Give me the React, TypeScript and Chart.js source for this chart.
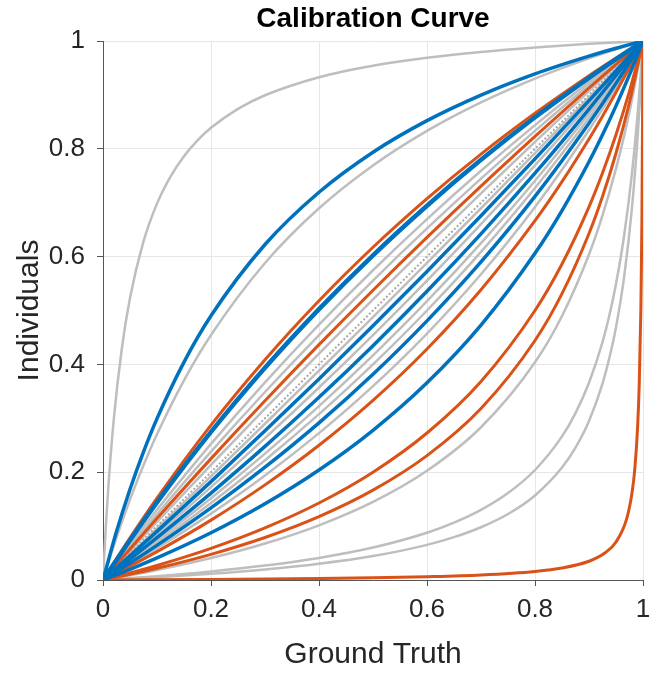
import React, { useEffect, useRef } from "react";
import { Chart, registerables } from "chart.js";

Chart.register(...registerables);

// Ground-truth sample points
const xGrid = [0, 0.05, 0.1, 0.2, 0.3, 0.4, 0.5, 0.6, 0.7, 0.8, 0.9, 0.95, 1];
const xGridLow = [0, 0.025, 0.05, 0.075, 0.1, 0.15, 0.2, 0.3, 0.4, 0.5, 0.6, 0.7, 0.8, 0.9, 0.95, 1];
const xGridHigh = [0, 0.05, 0.1, 0.2, 0.3, 0.4, 0.5, 0.6, 0.7, 0.8, 0.85, 0.9, 0.925, 0.95, 0.975, 1];

// Gray curves
const gray030 = [0, 0.0787, 0.1493, 0.2128, 0.2703, 0.3704, 0.4545, 0.5882, 0.6897, 0.7692, 0.8333, 0.8861, 0.9302, 0.9677, 0.9845, 1]; // xGridLow
const gray074 = [0, 0.0664, 0.1305, 0.2525, 0.3667, 0.4739, 0.5747, 0.6696, 0.7592, 0.8439, 0.924, 0.9625, 1];
const gray080 = [0, 0.0617, 0.122, 0.2381, 0.3488, 0.4545, 0.5556, 0.6522, 0.7447, 0.8333, 0.9184, 0.9596, 1];
const gray092 = [0, 0.0541, 0.1078, 0.2137, 0.3178, 0.4202, 0.5208, 0.6198, 0.7172, 0.813, 0.9073, 0.9538, 1];
const gray105 = [0, 0.0477, 0.0957, 0.1923, 0.2899, 0.3883, 0.4878, 0.5882, 0.6897, 0.7921, 0.8955, 0.9476, 1];
const gray120 = [0, 0.042, 0.0847, 0.1724, 0.2632, 0.3571, 0.4545, 0.5556, 0.6604, 0.7692, 0.8824, 0.9406, 1];
const gray140 = [0, 0.0362, 0.0735, 0.1515, 0.2344, 0.3226, 0.4167, 0.5172, 0.625, 0.7407, 0.8654, 0.9314, 1];
const gray150 = [0, 0.0339, 0.069, 0.1429, 0.2222, 0.3077, 0.4, 0.5, 0.6087, 0.7273, 0.8571, 0.9268, 1];
const gray178 = [0, 0.0287, 0.0588, 0.1232, 0.194, 0.2725, 0.3597, 0.4573, 0.5673, 0.692, 0.8349, 0.9143, 1];
const gray590 = [0, 0.0088, 0.0185, 0.0407, 0.0677, 0.1015, 0.1449, 0.2027, 0.2834, 0.404, 0.4899, 0.604, 0.6764, 0.7631, 0.8686, 1]; // xGridHigh
const diagonal = [0, 0.05, 0.1, 0.2, 0.3, 0.4, 0.5, 0.6, 0.7, 0.8, 0.9, 0.95, 1];

// Orange curves
const orange062 = [0, 0.0782, 0.152, 0.2874, 0.4087, 0.5181, 0.6173, 0.7075, 0.7901, 0.8658, 0.9356, 0.9684, 1];
const orange086 = [0, 0.0577, 0.1144, 0.2252, 0.3326, 0.4367, 0.5376, 0.6356, 0.7307, 0.823, 0.9128, 0.9567, 1];
const orange200 = [0, 0.0256, 0.0526, 0.1111, 0.1765, 0.25, 0.3333, 0.4286, 0.5385, 0.6667, 0.7391, 0.8182, 0.8605, 0.9048, 0.9512, 1]; // xGridHigh
const orange400 = [0, 0.013, 0.027, 0.0588, 0.0968, 0.1429, 0.2, 0.2727, 0.3684, 0.5, 0.5862, 0.6923, 0.7551, 0.8261, 0.907, 1]; // xGridHigh
const orange500 = [0, 0.0104, 0.0217, 0.0476, 0.0789, 0.1176, 0.1667, 0.2308, 0.3182, 0.4444, 0.5313, 0.6429, 0.7115, 0.7917, 0.8864, 1]; // xGridHigh

// Blue curves
const blue026 = [0, 0.0898, 0.1683, 0.2377, 0.2994, 0.4043, 0.4902, 0.6224, 0.7194, 0.7937, 0.8523, 0.8997, 0.939, 0.9719, 0.9865, 1]; // xGridLow
const blue066 = [0, 0.0739, 0.1441, 0.2747, 0.3937, 0.5025, 0.6024, 0.6944, 0.7795, 0.8584, 0.9317, 0.9664, 1];
const blue112 = [0, 0.0449, 0.0903, 0.1825, 0.2768, 0.3731, 0.4717, 0.5725, 0.6757, 0.7813, 0.8893, 0.9443, 1];
const blue130 = [0, 0.0389, 0.0787, 0.1613, 0.2479, 0.339, 0.4348, 0.5357, 0.6422, 0.7547, 0.8738, 0.936, 1];
const blue162 = [0, 0.0315, 0.0642, 0.1337, 0.2092, 0.2915, 0.3817, 0.4808, 0.5902, 0.7117, 0.8475, 0.9214, 1];
const blue260 = [0, 0.0198, 0.041, 0.0877, 0.1415, 0.2041, 0.2778, 0.3659, 0.473, 0.6061, 0.6855, 0.7759, 0.8259, 0.8796, 0.9375, 1]; // xGridHigh

// Extreme curves with their own sample points
const grayTopX = [0, 0.0025, 0.005, 0.01, 0.02, 0.035, 0.05, 0.075, 0.1, 0.125, 0.15, 0.175, 0.2, 0.25, 0.3, 0.4, 0.5, 0.6, 0.7, 0.8, 0.9, 1];
const grayTopY = [0, 0.0496, 0.0948, 0.1739, 0.2983, 0.4304, 0.523, 0.6281, 0.6983, 0.7485, 0.7862, 0.8155, 0.8389, 0.8741, 0.8993, 0.9328, 0.9542, 0.969, 0.9798, 0.9881, 0.9947, 1];

const grayLowX = [0, 0.1, 0.2, 0.3, 0.4, 0.5, 0.6, 0.65, 0.7, 0.75, 0.8, 0.85, 0.875, 0.9, 0.925, 0.94, 0.95, 0.965, 0.98, 0.99, 0.995, 1];
const grayLowAY = [0, 0.0071, 0.0158, 0.0267, 0.041, 0.0602, 0.0877, 0.1064, 0.1301, 0.1613, 0.2041, 0.2665, 0.3097, 0.3659, 0.4415, 0.5011, 0.5491, 0.6387, 0.7585, 0.8639, 0.9273, 1];
const grayLowBY = [0, 0.0051, 0.0115, 0.0195, 0.0301, 0.0444, 0.0652, 0.0795, 0.0979, 0.1224, 0.1569, 0.2086, 0.2456, 0.2951, 0.3645, 0.4215, 0.4691, 0.5619, 0.695, 0.8216, 0.9025, 1];

const orangeLowX = [0, 0.2, 0.4, 0.5, 0.6, 0.7, 0.8, 0.85, 0.9, 0.93, 0.95, 0.97, 0.98, 0.985, 0.99, 0.993, 0.996, 0.998, 1];
const orangeLowY = [0, 0.001, 0.0027, 0.004, 0.006, 0.0093, 0.0158, 0.0222, 0.0348, 0.0505, 0.0706, 0.1145, 0.1639, 0.208, 0.2837, 0.362, 0.499, 0.6662, 1];

const xTickLabels = ["0", "0.2", "0.4", "0.6", "0.8", "1"];
const yTickLabels = ["0", "0.2", "0.4", "0.6", "0.8", "1"];

const GRAY = "#bebebe";
const BLUE = "#0072BD";
const ORANGE = "#D95319";
const FONT = "'Liberation Sans', Arial, Helvetica, sans-serif";

function mk(xs: number[], ys: number[], color: string, width: number, order: number, dash?: number[]) {
  return {
    data: xs.map((x, i) => ({ x, y: ys[i] })),
    borderColor: color,
    borderWidth: width,
    pointRadius: 0,
    fill: false,
    cubicInterpolationMode: "monotone" as const,
    order,
    borderDash: dash || [],
  };
}

export default function App() {
  const ref = useRef<HTMLCanvasElement | null>(null);
  useEffect(() => {
    if (!ref.current) return;
    const datasets: any[] = [];
    datasets.push(mk(grayTopX, grayTopY, GRAY, 2.5, 5));
    datasets.push(mk(grayLowX, grayLowAY, GRAY, 2.5, 5));
    datasets.push(mk(grayLowX, grayLowBY, GRAY, 2.5, 5));
    datasets.push(mk(xGridLow, gray030, GRAY, 2.5, 5));
    [gray074, gray080, gray092, gray105, gray120, gray140, gray150, gray178].forEach((g) =>
      datasets.push(mk(xGrid, g, GRAY, 2.5, 5))
    );
    datasets.push(mk(xGridHigh, gray590, GRAY, 2.5, 5));
    datasets.push(mk(xGrid, diagonal, "#a8a8a8", 2, 4, [2, 2]));
    [orange062, orange086].forEach((o) => datasets.push(mk(xGrid, o, ORANGE, 3, 3)));
    [orange200, orange400, orange500].forEach((o) => datasets.push(mk(xGridHigh, o, ORANGE, 3, 3)));
    datasets.push(mk(orangeLowX, orangeLowY, ORANGE, 3, 3));
    datasets.push(mk(xGridLow, blue026, BLUE, 3.5, 2));
    datasets.push(mk(xGrid, blue066, BLUE, 4.5, 2));
    [blue112, blue130, blue162].forEach((b) => datasets.push(mk(xGrid, b, BLUE, 3.5, 2)));
    datasets.push(mk(xGridHigh, blue260, BLUE, 3.5, 2));

    const chart = new Chart(ref.current, {
      type: "line",
      data: { datasets },
      options: {
        animation: false,
        responsive: false,
        devicePixelRatio: 1,
        layout: { padding: { left: 0, right: 19, top: 0, bottom: 0 } },
        plugins: {
          legend: { display: false },
          tooltip: { enabled: false },
          title: {
            display: true,
            text: "Calibration Curve",
            fullSize: false,
            color: "#000000",
            font: { family: FONT, size: 28, weight: "bold" },
            padding: { top: 2, bottom: 5.4 },
          },
        },
        scales: {
          x: {
            type: "linear",
            min: 0,
            max: 1,
            ticks: {
              stepSize: 0.2,
              color: "#262626",
              font: { family: FONT, size: 26 },
              padding: 8,
              maxRotation: 0,
              callback: (_v: any, i: number) => xTickLabels[i],
            },
            grid: { color: "#e6e6e6", tickColor: "#555555", tickLength: 6, lineWidth: 1 },
            border: { display: true, color: "#555555", width: 1 },
            title: {
              display: true,
              text: "Ground Truth",
              color: "#262626",
              font: { family: FONT, size: 30 },
              padding: { top: 0, bottom: 2 },
            },
            afterFit: (s: any) => {
              s.height = 95;
            },
          },
          y: {
            type: "linear",
            min: 0,
            max: 1,
            ticks: {
              stepSize: 0.2,
              color: "#262626",
              font: { family: FONT, size: 26 },
              padding: 12,
              callback: (_v: any, i: number) => yTickLabels[i],
            },
            grid: { color: "#e6e6e6", tickColor: "#555555", tickLength: 6, lineWidth: 1 },
            border: { display: true, color: "#555555", width: 1 },
            title: {
              display: true,
              text: "Individuals",
              color: "#262626",
              font: { family: FONT, size: 30 },
              padding: { top: 12, bottom: 0 },
            },
            afterFit: (s: any) => {
              s.width = 103;
            },
          },
        },
      },
    } as any);
    return () => chart.destroy();
  }, []);
  return (
    <div style={{ position: "absolute", left: 0, top: 0, width: 662, height: 675, background: "#fff" }}>
      <canvas ref={ref} width={662} height={675} style={{ width: 662, height: 675 }} />
    </div>
  );
}
